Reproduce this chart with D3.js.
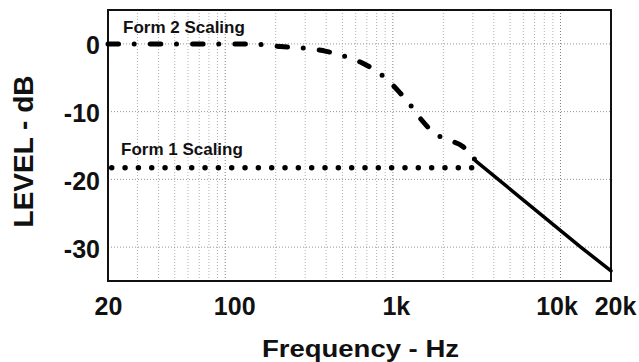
<!DOCTYPE html>
<html>
<head>
<meta charset="utf-8">
<script src="https://d3js.org/d3.v7.min.js"></script>
<style>
  body { margin: 0; background: #fff; }
  text { font-family: "Liberation Sans", Arial, sans-serif; font-weight: bold; fill: #111; }
</style>
</head>
<body>
<div id="chart"></div>
<script>
// data
var form2Freq = [20, 100, 140, 215, 285, 400, 510, 680, 900, 1100, 1270, 1480, 1770, 2140, 2600, 3130];
var form2Db   = [0, 0, 0, -0.4, -0.6, -1.1, -1.8, -3.0, -5.0, -7.2, -9.0, -11.2, -13.2, -14.2, -15.1, -17.3];
var form1Freq = [20, 3130];
var form1Db   = [-18.3, -18.3];
var rolloffFreq = [3130, 13200, 20000];
var rolloffDb   = [-17.3, -30, -33.5];

// ticks and grid
var xTickValues = [20, 100, 1000, 10000, 20000];
var xTickLabels = ["20", "100", "1k", "10k", "20k"];
var yTickValues = [0, -10, -20, -30];
var yTickLabels = ["0", "-10", "-20", "-30"];
var minorGrid = [30, 40, 50, 60, 70, 80, 90, 200, 300, 400, 500, 600, 700, 800, 900,
                 2000, 3000, 4000, 5000, 6000, 7000, 8000, 9000];
var majorGrid = [100, 1000, 10000];

// set the dimensions and margins of the graph
var margin = {top: 10, right: 28, bottom: 81, left: 108},
    width = 639 - margin.left - margin.right,
    height = 362 - margin.top - margin.bottom;

var svg = d3.select("#chart")
  .append("svg")
    .attr("width", 639)
    .attr("height", 362)
  .append("g")
    .attr("transform", "translate(" + margin.left + "," + margin.top + ")");

var x = d3.scaleLog()
    .domain([20, 20000])
    .range([0, width]);

var y = d3.scaleLinear()
    .domain([-35, 5])
    .range([height, 0]);

// grid lines
svg.append("g")
  .selectAll("line")
  .data(minorGrid)
  .enter()
  .append("line")
    .attr("x1", function(d) { return x(d); })
    .attr("x2", function(d) { return x(d); })
    .attr("y1", 0)
    .attr("y2", height)
    .attr("stroke", "#b0b0b0")
    .attr("stroke-dasharray", "1,2");

svg.append("g")
  .selectAll("line")
  .data(majorGrid)
  .enter()
  .append("line")
    .attr("x1", function(d) { return x(d); })
    .attr("x2", function(d) { return x(d); })
    .attr("y1", 0)
    .attr("y2", height)
    .attr("stroke", "#808080")
    .attr("stroke-dasharray", "1,2");

svg.append("g")
  .selectAll("line")
  .data(yTickValues)
  .enter()
  .append("line")
    .attr("x1", 0)
    .attr("x2", width)
    .attr("y1", function(d) { return y(d); })
    .attr("y2", function(d) { return y(d); })
    .attr("stroke", "#949494")
    .attr("stroke-dasharray", "1,2");

// X axis labels (nudged a little, like the original)
var xNudge = {"20": 0, "100": 9, "1k": 3, "10k": -4, "20k": 4};
svg.append("g")
    .attr("transform", "translate(0," + height + ")")
    .call(d3.axisBottom(x)
      .tickValues(xTickValues)
      .tickFormat(function(d, i) { return xTickLabels[i]; })
      .tickSize(0))
    .call(function(g) { g.select(".domain").remove(); })
    .selectAll("text")
      .attr("y", 34)
      .attr("dy", null)
      .attr("dx", function(d, i) { return xNudge[xTickLabels[i]]; })
      .style("font-size", "25px")
      .style("font-family", "'Liberation Sans', Arial, sans-serif")
      .style("font-weight", "bold")
      .attr("fill", "#111");

// Y axis labels
svg.append("g")
    .call(d3.axisLeft(y)
      .tickValues(yTickValues)
      .tickFormat(function(d, i) { return yTickLabels[i]; })
      .tickSize(0))
    .call(function(g) { g.select(".domain").remove(); })
    .selectAll("text")
      .attr("x", -8)
      .attr("dy", "0.4em")
      .style("font-size", "25px")
      .style("font-family", "'Liberation Sans', Arial, sans-serif")
      .style("font-weight", "bold")
      .attr("fill", "#111");

// frame
svg.append("rect")
    .attr("x", 0)
    .attr("y", 0)
    .attr("width", width)
    .attr("height", height)
    .attr("fill", "none")
    .attr("stroke", "#111")
    .attr("stroke-width", 2);

var line = d3.line()
    .x(function(d) { return x(d[0]); })
    .y(function(d) { return y(d[1]); });

// Form 1: dotted
svg.append("path")
    .datum(d3.zip(form1Freq, form1Db))
    .attr("d", line)
    .attr("fill", "none")
    .attr("stroke", "#000")
    .attr("stroke-width", 5.5)
    .attr("stroke-linecap", "round")
    .attr("stroke-dasharray", "0,13.33")
    .attr("stroke-dashoffset", 9.6);

// Form 2: dash-dot
svg.append("path")
    .datum(d3.zip(form2Freq, form2Db))
    .attr("d", line.curve(d3.curveMonotoneX))
    .attr("fill", "none")
    .attr("stroke", "#000")
    .attr("stroke-width", 5)
    .attr("stroke-linecap", "round")
    .attr("stroke-dasharray", "10.5,15.7,0,16.1");

// common roll-off: solid
svg.append("path")
    .datum(d3.zip(rolloffFreq, rolloffDb))
    .attr("d", line.curve(d3.curveLinear))
    .attr("fill", "none")
    .attr("stroke", "#000")
    .attr("stroke-width", 3.5)
    .attr("stroke-linecap", "round");

// annotations
svg.append("text")
    .attr("x", 15)
    .attr("y", 23)
    .style("font-size", "17px")
    .text("Form 2 Scaling");

svg.append("text")
    .attr("x", 13)
    .attr("y", 145)
    .style("font-size", "17px")
    .text("Form 1 Scaling");

// axis titles
svg.append("text")
    .attr("text-anchor", "middle")
    .attr("x", 252.5)
    .attr("y", 347)
    .attr("textLength", 197)
    .attr("lengthAdjust", "spacingAndGlyphs")
    .style("font-size", "23px")
    .text("Frequency - Hz");

svg.append("text")
    .attr("text-anchor", "middle")
    .attr("transform", "translate(-75,141.5) rotate(-90)")
    .style("font-size", "28px")
    .text("LEVEL - dB");
</script>
</body>
</html>
